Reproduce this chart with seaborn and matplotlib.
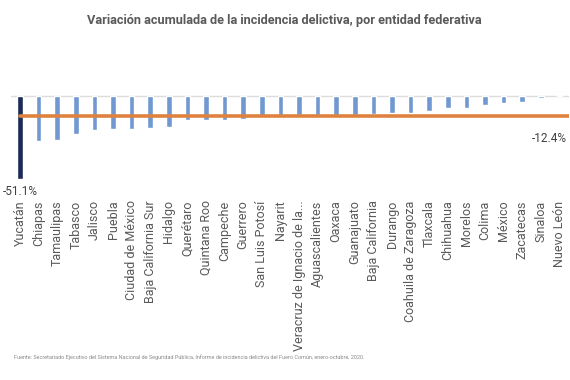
import pandas as pd
import matplotlib
matplotlib.use("Agg")
import matplotlib.pyplot as plt
import seaborn as sns

estados = ["Yucatán", "Chiapas", "Tamaulipas", "Tabasco", "Jalisco", "Puebla",
           "Ciudad de México", "Baja California Sur", "Hidalgo", "Querétaro",
           "Quintana Roo", "Campeche", "Guerrero", "San Luis Potosí", "Nayarit",
           "Veracruz de Ignacio de la...", "Aguascalientes", "Oaxaca", "Guanajuato",
           "Baja California", "Durango", "Coahuila de Zaragoza", "Tlaxcala",
           "Chihuahua", "Morelos", "Colima", "México", "Zacatecas", "Sinaloa",
           "Nuevo León"]
variacion = [-51.1, -27.4, -27.0, -23.0, -21.0, -20.4, -20.1, -19.7, -19.0, -14.7,
             -14.5, -14.5, -14.1, -12.0, -11.8, -11.7, -11.6, -11.5, -11.4, -10.9,
             -10.6, -10.4, -9.4, -7.4, -7.2, -5.3, -4.3, -3.9, -0.9, 0.6]
promedio = -12.4

colores = ["#1b2a57"] + ["#7198d0"] * (len(estados) - 1)

df = pd.DataFrame({"estado": estados, "variacion": variacion})

sns.set_style("white")
plt.rcParams["font.family"] = ["Roboto", "DejaVu Sans"]

fig = plt.figure(figsize=(5.7, 3.8), dpi=100)
ax = fig.add_axes([0.0188, 0.4763, 0.979, 0.2774])

ax.axhline(0, color="#dcdcdc", lw=1, zorder=0)
sns.barplot(data=df, x="estado", y="variacion", hue="estado", palette=colores,
            legend=False, width=0.3, saturation=1, ax=ax, zorder=2)
ax.axhline(promedio, xmin=0.016, color="#e0823f", lw=2.6, zorder=3)

# etiquetas de datos
ax.text(0, variacion[0] - 7.2, f"{variacion[0]:.1f}%", ha="center", va="center",
        fontsize=8.5, color="#404040")
ax.text(len(estados) - 0.6, promedio - 13.6, f"{promedio:.1f}%", ha="right", va="center",
        fontsize=8.5, color="#404040")

ax.set_xlim(-0.5, len(estados) - 0.5)
ax.set_ylim(-63.2, 1.5)
ax.set_xlabel("")
ax.set_ylabel("")
ax.set_yticks([])
ax.tick_params(axis="x", length=0, pad=1)
plt.setp(ax.get_xticklabels(), rotation=90, ha="center", va="top",
         fontsize=9, color="#595959")
sns.despine(ax=ax, left=True, bottom=True)

fig.text(0.4995, 0.947, "Variación acumulada de la incidencia delictiva, por entidad federativa",
         ha="center", va="center", fontsize=9.2, fontweight="bold", color="#5a5a5a")
fig.text(0.025, 0.06, "Fuente: Secretariado Ejecutivo del Sistema Nacional de Seguridad Pública, "
         "Informe de incidencia delictiva del Fuero Común, enero-octubre, 2020.",
         ha="left", va="center", fontsize=3.95, color="#8a8a8a")

fig.savefig("out.png", dpi=100)
